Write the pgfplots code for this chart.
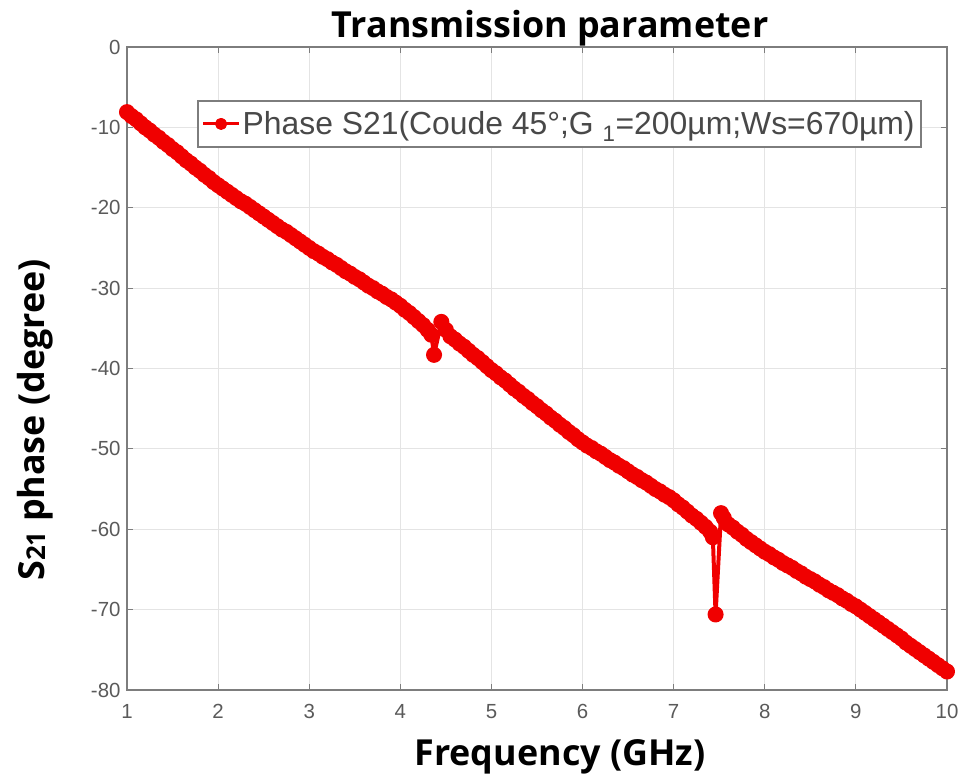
\documentclass[border=0pt]{standalone}
\usepackage{pgfplots}
\pgfplotsset{compat=1.18}
\usepackage{fontspec}
\setmainfont{Liberation Sans}
\newfontfamily\labfont{Open Sans}
\definecolor{axgray}{RGB}{125,125,125}
\definecolor{tickgray}{RGB}{90,90,90}
\definecolor{gridgray}{RGB}{228,228,228}
\definecolor{phred}{RGB}{240,0,0}
\begin{document}
\begin{tikzpicture}
\path[use as bounding box] (0,0) rectangle (963bp,776bp);
\begin{axis}[
  at={(127bp,86bp)}, anchor=south west,
  scale only axis, width=820bp, height=643bp,
  xmin=1, xmax=10, ymin=-80, ymax=0,
  xtick={1,2,...,10}, ytick={-80,-70,...,0},
  grid=major,
  grid style={gridgray, line width=1.2bp},
  axis line style={axgray, line width=2.2bp},
  tick style={axgray, line width=1.2bp},
  tick align=inside, major tick length=6bp,
  /pgf/number format/assume math mode=true,
  tick label style={font=\fontsize{20.5}{20.5}\selectfont, text=tickgray},
  xticklabel style={yshift=-11bp},
  yticklabel style={xshift=-3bp},
  title={\labfont\bfseries\fontsize{36}{36}\selectfont Transmission parameter},
  title style={at={(axis description cs:0.516,1.02)}, anchor=center},
  xlabel={\labfont\bfseries\fontsize{36}{36}\selectfont Frequency (GHz)},
  xlabel style={at={(axis description cs:0.528,-0.104)}, anchor=center},
  ylabel={\labfont\bfseries\fontsize{36}{36}\selectfont S\raisebox{-1bp}{\fontsize{26}{26}\selectfont 21} phase (degree)},
  ylabel style={at={(axis description cs:-0.112,0.42)}, anchor=center},
  legend style={at={(0.085,0.918)}, anchor=north west,
    draw=axgray, line width=1.8bp, fill=white,
    font=\fontsize{32}{32}\selectfont, text=tickgray!80!black,
    inner xsep=4bp, inner ysep=9bp},
  legend cell align=left,
  legend image code/.code={
    \draw[phred, line width=3bp] (0bp,0bp) -- (36bp,0bp);
    \fill[phred] (18bp,0bp) circle (4bp);
  },
]
\addplot[phred, line width=4bp, mark=*, mark size=6bp, mark options={draw=none, fill=phred}, line join=round]
coordinates {
(1.00,-8.1)(1.05,-8.6)(1.10,-9.0)(1.15,-9.5)(1.20,-10.0)(1.25,-10.4)(1.30,-10.9)(1.35,-11.3)(1.40,-11.8)(1.45,-12.2)
(1.50,-12.7)(1.55,-13.1)(1.60,-13.6)(1.65,-14.1)(1.70,-14.5)(1.75,-15.0)(1.80,-15.4)(1.85,-15.9)(1.90,-16.3)(1.95,-16.8)
(2.00,-17.2)(2.05,-17.6)(2.10,-18.0)(2.15,-18.4)(2.20,-18.8)(2.25,-19.2)(2.30,-19.5)(2.35,-19.9)(2.40,-20.3)(2.45,-20.7)
(2.50,-21.1)(2.55,-21.5)(2.60,-21.9)(2.65,-22.3)(2.70,-22.7)(2.75,-23.0)(2.80,-23.4)(2.85,-23.8)(2.90,-24.2)(2.95,-24.6)
(3.00,-25.0)(3.05,-25.4)(3.10,-25.7)(3.15,-26.1)(3.20,-26.4)(3.25,-26.8)(3.30,-27.1)(3.35,-27.5)(3.40,-27.9)(3.45,-28.2)
(3.50,-28.6)(3.55,-28.9)(3.60,-29.3)(3.65,-29.7)(3.70,-30.0)(3.75,-30.4)(3.80,-30.7)(3.85,-31.1)(3.90,-31.4)(3.95,-31.8)
(4.00,-32.2)(4.05,-32.7)(4.10,-33.1)(4.15,-33.6)(4.20,-34.1)(4.25,-34.6)(4.30,-35.2)(4.34,-35.8)(4.37,-38.3)(4.45,-34.2)
(4.50,-35.2)(4.55,-36.0)(4.60,-36.4)(4.65,-36.9)(4.70,-37.3)(4.75,-37.8)(4.80,-38.3)(4.85,-38.7)(4.90,-39.2)(4.95,-39.7)
(5.00,-40.2)(5.05,-40.6)(5.10,-41.1)(5.15,-41.5)(5.20,-42.0)(5.25,-42.5)(5.30,-42.9)(5.35,-43.4)(5.40,-43.8)(5.45,-44.3)
(5.50,-44.7)(5.55,-45.2)(5.60,-45.6)(5.65,-46.1)(5.70,-46.5)(5.75,-47.0)(5.80,-47.4)(5.85,-47.9)(5.90,-48.3)(5.95,-48.8)
(6.00,-49.2)(6.05,-49.6)(6.10,-49.9)(6.15,-50.3)(6.20,-50.6)(6.25,-51.0)(6.30,-51.4)(6.35,-51.7)(6.40,-52.1)(6.45,-52.4)
(6.50,-52.8)(6.55,-53.2)(6.60,-53.5)(6.65,-53.9)(6.70,-54.2)(6.75,-54.6)(6.80,-55.0)(6.85,-55.3)(6.90,-55.7)(6.95,-56.0)
(7.00,-56.4)(7.05,-56.9)(7.10,-57.3)(7.15,-57.8)(7.20,-58.3)(7.25,-58.7)(7.30,-59.2)(7.35,-59.7)(7.40,-60.3)(7.43,-61.0)
(7.46,-70.6)(7.52,-58.0)(7.55,-58.6)(7.60,-59.4)(7.65,-59.8)(7.70,-60.3)(7.75,-60.7)(7.80,-61.2)(7.85,-61.6)(7.90,-62.0)
(7.95,-62.4)(8.00,-62.8)(8.05,-63.1)(8.10,-63.5)(8.15,-63.8)(8.20,-64.2)(8.25,-64.5)(8.30,-64.8)(8.35,-65.2)(8.40,-65.5)
(8.45,-65.9)(8.50,-66.2)(8.55,-66.5)(8.60,-66.9)(8.65,-67.2)(8.70,-67.6)(8.75,-67.9)(8.80,-68.2)(8.85,-68.6)(8.90,-68.9)
(8.95,-69.3)(9.00,-69.6)(9.05,-70.0)(9.10,-70.4)(9.15,-70.8)(9.20,-71.2)(9.25,-71.6)(9.30,-72.0)(9.35,-72.4)(9.40,-72.8)
(9.45,-73.2)(9.50,-73.6)(9.55,-74.1)(9.60,-74.5)(9.65,-74.9)(9.70,-75.3)(9.75,-75.7)(9.80,-76.1)(9.85,-76.5)(9.90,-76.9)
(9.95,-77.3)(10.00,-77.7)
};
\addlegendentry{Phase S21(Coude 45°;G \textsubscript{1}=200µm;Ws=670µm)}
\end{axis}
\end{tikzpicture}
\end{document}
